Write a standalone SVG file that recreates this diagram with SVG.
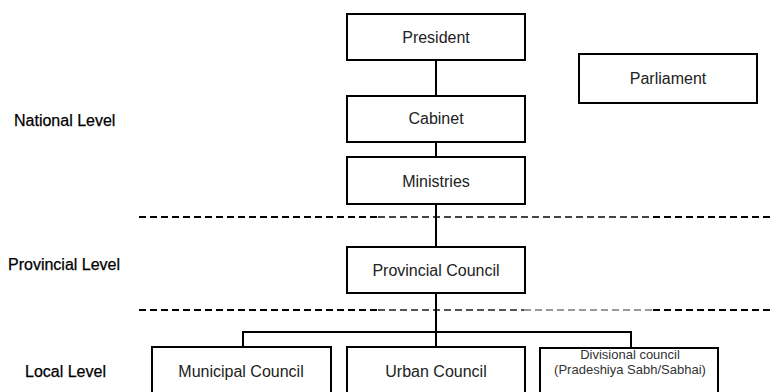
<svg xmlns="http://www.w3.org/2000/svg" width="774" height="392" viewBox="0 0 774 392">
  <style>
    .box { fill: #fff; stroke: #000; stroke-width: 2; }
    .lbl { font-family: "Liberation Sans", Arial, sans-serif; font-size: 16px; fill: #222; text-anchor: middle; }
    .small { font-size: 13px; fill: #333; }
    .level { font-family: "Liberation Sans", Arial, sans-serif; font-size: 16px; fill: #000; stroke: #000; stroke-width: 0.25; }
    .link { fill: none; stroke: #000; stroke-width: 2; }
    .dash { fill: none; stroke-width: 2; stroke-dasharray: 7 4; }
  </style>

  <!-- tier separators -->
  <g id="separators">
    <path class="dash" stroke="#000" d="M139 217 H378"/>
    <path class="dash" stroke="#444" d="M378 217 H653"/>
    <path class="dash" stroke="#000" d="M653 217 H774"/>
    <path class="dash" stroke="#000" d="M139 310 H378"/>
    <path class="dash" stroke="#555" d="M378 310 H524"/>
    <path class="dash" stroke="#999" d="M524 310 H653"/>
    <path class="dash" stroke="#000" d="M653 310 H774"/>
  </g>

  <!-- tier labels -->
  <g id="levels">
    <text class="level" x="14" y="126">National Level</text>
    <text class="level" x="8" y="270">Provincial Level</text>
    <text class="level" x="25" y="377">Local Level</text>
  </g>

  <!-- connectors -->
  <g id="connectors">
    <path class="link" d="M436 60 V96"/>
    <path class="link" d="M436 142 V157"/>
    <path class="link" d="M436 204 V247"/>
    <path class="link" d="M436 293 V347"/>
    <path class="link" d="M243 347 V332 H631 V348"/>
  </g>

  <g id="president">
    <rect class="box" x="347" y="14" width="178" height="46"/>
    <text class="lbl" x="436" y="43">President</text>
  </g>

  <g id="parliament">
    <rect class="box" x="579" y="54" width="178" height="49"/>
    <text class="lbl" x="668" y="84">Parliament</text>
  </g>

  <g id="cabinet">
    <rect class="box" x="347" y="96" width="178" height="46"/>
    <text class="lbl" x="436" y="124">Cabinet</text>
  </g>

  <g id="ministries">
    <rect class="box" x="347" y="157" width="178" height="47"/>
    <text class="lbl" x="436" y="187">Ministries</text>
  </g>

  <g id="provincial-council">
    <rect class="box" x="347" y="247" width="178" height="46"/>
    <text class="lbl" x="436" y="276">Provincial Council</text>
  </g>

  <g id="municipal-council">
    <rect class="box" x="152" y="347" width="179" height="60"/>
    <text class="lbl" x="241" y="377">Municipal Council</text>
  </g>

  <g id="urban-council">
    <rect class="box" x="347" y="347" width="178" height="60"/>
    <text class="lbl" x="436" y="377">Urban Council</text>
  </g>

  <g id="divisional-council">
    <rect class="box" x="540" y="348" width="178" height="60"/>
    <text class="lbl small" x="630" y="359">Divisional council</text>
    <text class="lbl small" x="630" y="374">(Pradeshiya Sabh/Sabhai)</text>
  </g>
</svg>
